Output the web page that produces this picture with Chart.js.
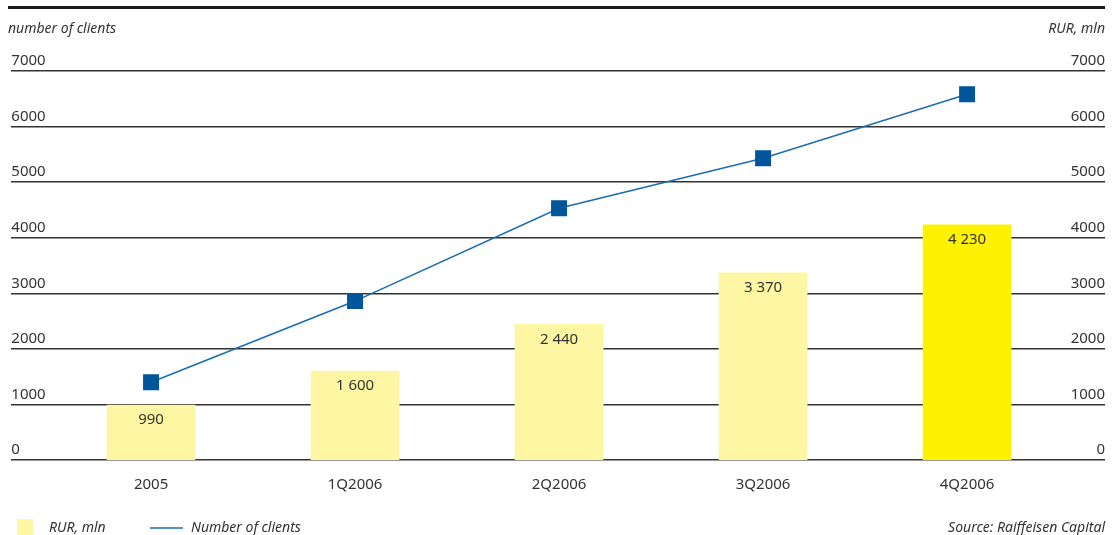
<!DOCTYPE html>
<html>
<head>
<meta charset="utf-8">
<script src="https://cdn.jsdelivr.net/npm/chart.js@4.4.1/dist/chart.umd.min.js"></script>
<style>
  html, body { margin: 0; padding: 0; background: #fff; }
  #wrap { width: 1119px; height: 535px; }
</style>
</head>
<body>
<div id="wrap"><canvas id="clientsChart" width="1119" height="535"></canvas></div>
<script>
// periods on the x axis
const periods = ['2005', '1Q2006', '2Q2006', '3Q2006', '4Q2006'];
// volume, RUR mln (bars)
const rurMln = [990, 1600, 2440, 3370, 4230];
// number of clients (line)
const clients = [1400, 2860, 4530, 5430, 6580];
// shared scale for both y axes
const yTicks = [0, 1000, 2000, 3000, 4000, 5000, 6000, 7000];

const FONT = '"Noto Sans", sans-serif';
const TEXT = '#333333';
const PALE = '#fdf6a2';
const BRIGHT = '#fff200';
const BLUE_MARK = '#00559b';
const BLUE_LINE = '#1b6cb0';

// 1 600 style numbers
function spaced(n) {
    return String(n).replace(/\B(?=(\d{3})+(?!\d))/g, ' ');
}

const extras = {
    id: 'extras',
    afterDraw(chart) {
        const ctx = chart.ctx;
        ctx.save();

        // heavy rule on top
        ctx.fillStyle = '#1a1a1a';
        ctx.fillRect(8, 6, 1097, 3);

        // axis captions
        ctx.fillStyle = TEXT;
        ctx.font = 'italic 14px ' + FONT;
        ctx.textBaseline = 'middle';
        ctx.textAlign = 'left';
        ctx.fillText('number of clients', 8, 29);
        ctx.textAlign = 'right';
        ctx.fillText('RUR, mln', 1105, 29);

        // values inside the bars
        const meta = chart.getDatasetMeta(1);
        ctx.font = '15px ' + FONT;
        ctx.textAlign = 'center';
        meta.data.forEach((bar, i) => {
            ctx.fillText(spaced(rurMln[i]), bar.x, bar.y + 15);
        });

        // legend
        const ly = 528;
        ctx.fillStyle = PALE;
        ctx.fillRect(17, 519, 16, 16);
        ctx.strokeStyle = BLUE_LINE;
        ctx.lineWidth = 1.5;
        ctx.beginPath();
        ctx.moveTo(150, ly);
        ctx.lineTo(183, ly);
        ctx.stroke();
        ctx.fillStyle = TEXT;
        ctx.font = 'italic 14px ' + FONT;
        ctx.textAlign = 'left';
        ctx.fillText('RUR, mln', 49, ly);
        ctx.fillText('Number of clients', 191, ly);
        ctx.textAlign = 'right';
        ctx.fillText('Source: Raiffeisen Capital', 1105, ly);

        ctx.restore();
    }
};

const yAxis = (position, drawGrid) => ({
    type: 'linear',
    position: position,
    min: 0,
    max: 7000,
    afterBuildTicks: scale => { scale.ticks = yTicks.map(v => ({ value: v })); },
    grid: {
        display: drawGrid,
        drawTicks: false,
        color: '#333333',
        lineWidth: 1.5
    },
    border: { display: false },
    ticks: {
        mirror: true,
        padding: 0,
        labelOffset: -10,
        color: TEXT,
        font: { family: FONT, size: 15 },
        callback: v => String(v)
    }
});

const ctx = document.getElementById('clientsChart').getContext('2d');
new Chart(ctx, {
    type: 'bar',
    data: {
        datasets: [{
            type: 'line',
            label: 'Number of clients',
            data: clients.map((v, i) => ({ x: i, y: v })),
            yAxisID: 'y',
            borderColor: BLUE_LINE,
            borderWidth: 1.5,
            pointStyle: 'rect',
            pointRadius: 11.3,
            pointBorderWidth: 0,
            pointBackgroundColor: BLUE_MARK,
            tension: 0,
            order: 0
        }, {
            type: 'bar',
            label: 'RUR, mln',
            data: rurMln.map((v, i) => ({ x: i, y: v })),
            yAxisID: 'y1',
            backgroundColor: rurMln.map((v, i) => i === rurMln.length - 1 ? BRIGHT : PALE),
            barThickness: 88,
            borderWidth: 0,
            order: 1
        }]
    },
    options: {
        responsive: false,
        animation: false,
        layout: { padding: { top: 71, left: 8, right: 14, bottom: 25 } },
        plugins: {
            legend: { display: false },
            tooltip: { enabled: false }
        },
        scales: {
            x: {
                type: 'linear',
                offset: false,
                min: -0.685,
                max: 4.676,
                afterBuildTicks: scale => { scale.ticks = periods.map((p, i) => ({ value: i })); },
                grid: { display: false, drawTicks: false, offset: false },
                border: { display: false },
                ticks: {
                    padding: 16,
                    color: TEXT,
                    font: { family: FONT, size: 15 },
                    callback: v => periods[v] ?? ''
                }
            },
            y: yAxis('left', true),
            y1: yAxis('right', false)
        }
    },
    plugins: [extras]
});
</script>
</body>
</html>
